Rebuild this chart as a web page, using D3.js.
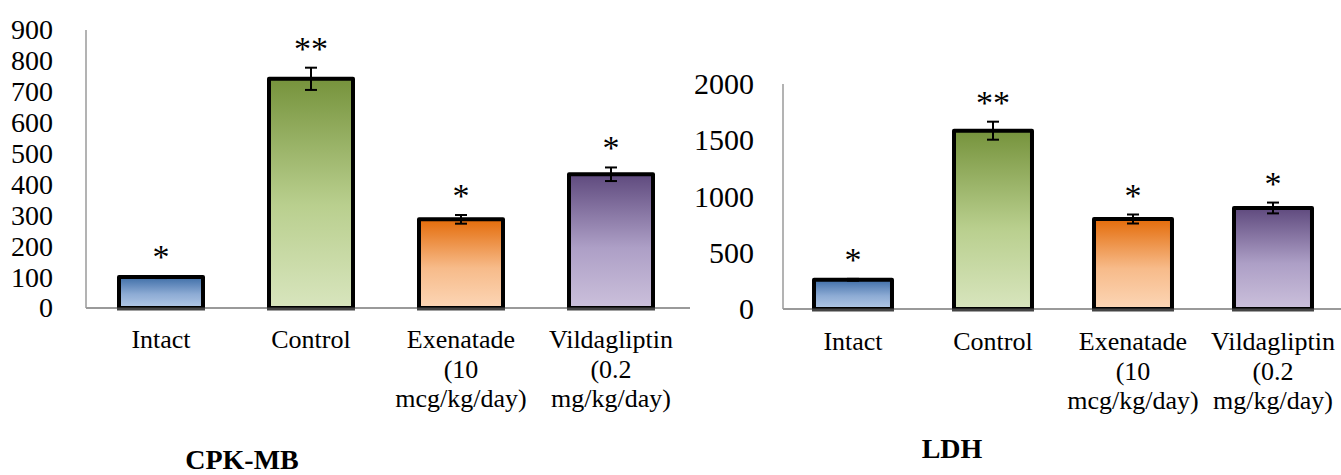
<!DOCTYPE html>
<html>
<head>
<meta charset="utf-8">
<script src="https://cdn.jsdelivr.net/npm/d3@7"></script>
<style>
  html, body { margin: 0; padding: 0; background: #fff; }
  svg { display: block; }
  text { font-family: "Liberation Serif", "Times New Roman", serif; fill: #000; }
</style>
</head>
<body>
<svg id="chart" width="1341" height="475"></svg>
<script>
// Groups shown on both panels
const categories = ["Intact", "Control", "Exenatade (10 mcg/kg/day)", "Vildagliptin (0.2 mg/kg/day)"];
const categoryLines = [
  ["Intact"],
  ["Control"],
  ["Exenatade", "(10", "mcg/kg/day)"],
  ["Vildagliptin", "(0.2", "mg/kg/day)"]
];

// CPK-MB (mean and error)
const cpkMean = [100, 742, 287, 433];
const cpkErr  = [3, 36, 14, 22];
const cpkSig  = ["*", "**", "*", "*"];
const cpkTicks = [0, 100, 200, 300, 400, 500, 600, 700, 800, 900];

// LDH (mean and error)
const ldhMean = [260, 1585, 800, 898];
const ldhErr  = [8, 80, 40, 48];
const ldhSig  = ["*", "**", "*", "*"];
const ldhTicks = [0, 500, 1000, 1500, 2000];

// Bar fills: dark top fading to a light base
const fills = [
  { top: "#3f6ea8", mid: "#8dabd4", bot: "#b3c9e6" },
  { top: "#76933c", mid: "#b9cf8e", bot: "#d8e5be" },
  { top: "#e46c0a", mid: "#f7bb8a", bot: "#fcd6b6" },
  { top: "#5f4a7e", mid: "#ad9fc6", bot: "#cbc0db" }
];

const svg = d3.select("#chart");
const defs = svg.append("defs");
fills.forEach((f, i) => {
  const g = defs.append("linearGradient")
    .attr("id", "grad" + i)
    .attr("x1", 0).attr("y1", 0).attr("x2", 0).attr("y2", 1);
  g.append("stop").attr("offset", "0%").attr("stop-color", f.top);
  g.append("stop").attr("offset", "55%").attr("stop-color", f.mid);
  g.append("stop").attr("offset", "100%").attr("stop-color", f.bot);
});

function panel(opts) {
  const g = svg.append("g");
  const x = d3.scaleBand()
    .domain(categories)
    .range([opts.x0, opts.x1])
    .paddingInner(opts.padInner)
    .paddingOuter(opts.padInner / 2);
  const y = d3.scaleLinear()
    .domain([0, opts.max])
    .range([opts.base, opts.top]);

  // Tick labels
  const yAxis = d3.axisLeft(y).tickValues(opts.ticks).tickFormat(d3.format("d"))
    .tickSize(0).tickPadding(opts.labelGap);
  const ag = g.append("g").attr("transform", `translate(${opts.x0},0)`).call(yAxis);
  ag.attr("font-family", null).attr("font-size", null);
  ag.select(".domain").remove();
  ag.selectAll("text")
    .attr("font-size", opts.tickFont)
    .attr("fill", "#000");

  // Axis lines
  g.append("line")
    .attr("x1", opts.x0).attr("x2", opts.x0)
    .attr("y1", y(opts.max)).attr("y2", y(0))
    .attr("stroke", "#9a9a9a").attr("stroke-width", 1.5);
  g.append("line")
    .attr("x1", opts.x0).attr("x2", opts.axisEnd)
    .attr("y1", y(0)).attr("y2", y(0))
    .attr("stroke", "#9a9a9a").attr("stroke-width", 2);

  const data = categories.map((c, i) => ({ c, i, v: opts.mean[i], e: opts.err[i], s: opts.sig[i] }));

  // Bars
  g.selectAll("rect.bar").data(data).join("rect")
    .attr("class", "bar")
    .attr("x", d => x(d.c))
    .attr("width", x.bandwidth())
    .attr("y", d => y(d.v))
    .attr("height", d => y(0) - y(d.v))
    .attr("fill", d => `url(#grad${d.i})`)
    .attr("stroke", "#000")
    .attr("stroke-width", 4)
    .attr("stroke-linejoin", "round");

  // Dark base edge under each bar
  g.selectAll("line.base").data(data).join("line")
    .attr("class", "base")
    .attr("x1", d => x(d.c) - 2).attr("x2", d => x(d.c) + x.bandwidth() + 2)
    .attr("y1", y(0) + 1).attr("y2", y(0) + 1)
    .attr("stroke", "#444").attr("stroke-width", 3);

  // Error bars
  const cap = 6;
  const eg = g.selectAll("g.err").data(data).join("g").attr("class", "err")
    .attr("transform", d => `translate(${x(d.c) + x.bandwidth() / 2},0)`);
  eg.append("line")
    .attr("y1", d => y(d.v + d.e)).attr("y2", d => y(d.v - d.e))
    .attr("stroke", "#000").attr("stroke-width", 2);
  eg.append("line")
    .attr("x1", -cap).attr("x2", cap)
    .attr("y1", d => y(d.v + d.e)).attr("y2", d => y(d.v + d.e))
    .attr("stroke", "#000").attr("stroke-width", 2);
  eg.append("line")
    .attr("x1", -cap).attr("x2", cap)
    .attr("y1", d => y(d.v - d.e)).attr("y2", d => y(d.v - d.e))
    .attr("stroke", "#000").attr("stroke-width", 2);

  // Significance marks
  g.selectAll("text.sig").data(data).join("text")
    .attr("class", "sig")
    .attr("x", d => x(d.c) + x.bandwidth() / 2)
    .attr("y", d => y(d.v + d.e) - opts.sigGap)
    .attr("text-anchor", "middle")
    .attr("font-size", 34)
    .text(d => d.s);

  // Category labels
  const lg = g.selectAll("text.cat").data(data).join("text")
    .attr("class", "cat")
    .attr("text-anchor", "middle")
    .attr("font-size", 26)
    .attr("x", d => x(d.c) + x.bandwidth() / 2)
    .attr("y", opts.labelY);
  lg.selectAll("tspan").data(d => categoryLines[d.i].map(t => ({ t, cx: x(d.c) + x.bandwidth() / 2 })))
    .join("tspan")
    .attr("x", t => t.cx)
    .attr("dy", (t, k) => k === 0 ? 0 : 29.5)
    .text(t => t.t);

  // Panel title
  g.append("text")
    .attr("x", opts.titleX).attr("y", opts.titleY)
    .attr("text-anchor", "middle")
    .attr("font-size", 28)
    .attr("font-weight", "bold")
    .text(opts.title);
}

panel({
  x0: 86, x1: 686, axisEnd: 690, padInner: 0.44,
  top: 30, base: 308, max: 900, ticks: cpkTicks,
  tickFont: 28, labelGap: 33,
  mean: cpkMean, err: cpkErr, sig: cpkSig, sigGap: 8,
  labelY: 348, title: "CPK-MB", titleX: 242, titleY: 469
});

panel({
  x0: 783, x1: 1343, axisEnd: 1341, padInner: 0.443,
  top: 84, base: 309, max: 2000, ticks: ldhTicks,
  tickFont: 30, labelGap: 29,
  mean: ldhMean, err: ldhErr, sig: ldhSig, sigGap: 8,
  labelY: 350, title: "LDH", titleX: 952, titleY: 458
});
</script>
</body>
</html>
